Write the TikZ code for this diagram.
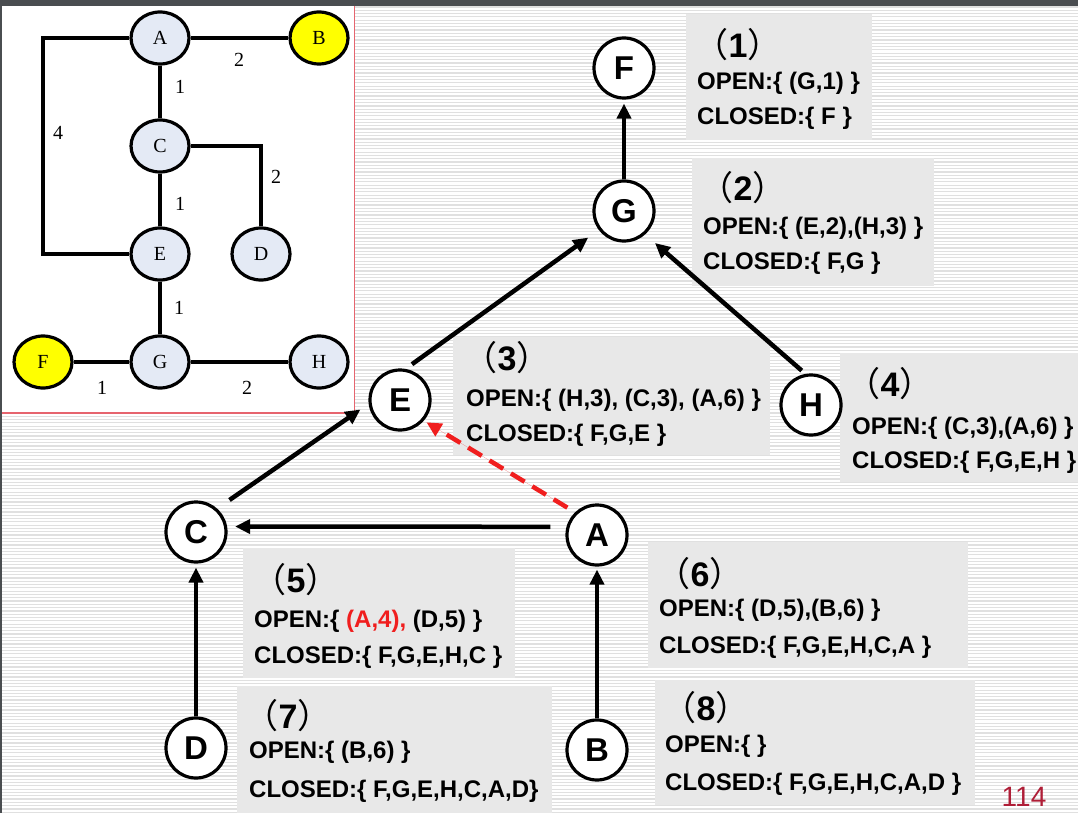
\documentclass[tikz,border=0pt]{standalone}
\usepackage{fontspec}
\setmainfont{Liberation Sans}
\newfontfamily\serifA{Liberation Serif}
\newfontfamily\cjk{Noto Sans CJK SC}
\usetikzlibrary{arrows.meta,shapes.geometric}
\definecolor{stripe}{RGB}{224,224,224}
\definecolor{boxgray}{RGB}{232,232,232}
\definecolor{nodeblue}{RGB}{228,234,245}
\definecolor{yel}{RGB}{255,255,0}
\definecolor{topbar}{RGB}{74,77,80}
\definecolor{panelred}{RGB}{230,100,110}
\definecolor{pagenum}{RGB}{175,30,55}
\definecolor{hlred}{RGB}{240,30,30}
\begin{document}
\begin{tikzpicture}[x=1pt,y=1pt,
 sg/.style={ellipse, draw=black, line width=3.2pt, fill=nodeblue, minimum width=58pt, minimum height=52pt, inner sep=0pt, font=\serifA\fontsize{20}{20}\selectfont},
 sgy/.style={sg, fill=yel},
 sedge/.style={line width=3.2pt},
 slbl/.style={inner sep=0pt, font=\serifA\fontsize{20}{20}\selectfont},
 tn/.style={circle, draw=black, fill=white, line width=3.2pt, minimum size=60pt, inner sep=0pt, font=\bfseries\fontsize{33}{33}\selectfont},
 arr/.style={line width=4.5pt, -{Triangle[length=15pt,width=14pt]}},
 darr/.style={arr, draw=hlred, fill=hlred, dash pattern=on 16pt off 9pt},
 panel/.style={fill=boxgray, draw=none, anchor=north west, inner sep=0pt},
 txt/.style={anchor=west, inner sep=0pt, font=\bfseries\fontsize{24}{28}\selectfont},
 stp/.style={inner sep=0pt, font=\fontsize{34}{34}\selectfont},
]
\useasboundingbox (0,0) rectangle (1078,-813);
% background
\fill[white] (0,0) rectangle (1078,-813);
\foreach \i in {0,...,244} \draw[stripe, line width=1.2pt] (0,-7-\i*3.3) -- (1078,-7-\i*3.3);
\fill[topbar] (0,0) rectangle (1078,-6);
\fill[topbar] (0,0) rectangle (1.6,-813);
% left panel
\fill[white] (1.6,-6) rectangle (354.5,-413);
\draw[panelred, line width=1.4pt] (354.5,-6) -- (354.5,-413) -- (1.6,-413);
% small graph
\node[sg]  (sA) at (160,-38) {A};
\node[sgy] (sB) at (319,-38) {B};
\node[sg]  (sC) at (160,-146) {C};
\node[sg]  (sD) at (261,-254) {D};
\node[sg]  (sE) at (160,-254) {E};
\node[sgy] (sF) at (43,-362) {F};
\node[sg]  (sG) at (160,-362) {G};
\node[sg]  (sH) at (319,-362) {H};
\coordinate (k1) at (43,-38);
\draw[sedge] (sA) -- (sB);
\draw[sedge] (sA) -- (sC);
\draw[sedge] (sA.west) -- (k1) |- (sE.west);
\draw[sedge] (sC.east) -| (sD.north);
\draw[sedge] (sC) -- (sE);
\draw[sedge] (sE) -- (sG);
\draw[sedge] (sF) -- (sG);
\draw[sedge] (sG) -- (sH);
\node[slbl] (l1) at (239,-60) {2};
\node[slbl] (l2) at (180,-87) {1};
\node[slbl] (l3) at (58,-133) {4};
\node[slbl] (l4) at (276,-177) {2};
\node[slbl] (l5) at (180,-204) {1};
\node[slbl] (l6) at (179,-308) {1};
\node[slbl] (l7) at (102,-388) {1};
\node[slbl] (l8) at (247,-388) {2};
% text panels
\node[panel, minimum width=186pt, minimum height=126pt] (p1) at (686,-14) {};
\node[panel, minimum width=242pt, minimum height=128pt] (p2) at (692,-158) {};
\node[panel, minimum width=317pt, minimum height=118pt] (p3) at (453,-337) {};
\node[panel, minimum width=238pt, minimum height=129pt] (p4) at (840,-353) {};
\node[panel, minimum width=272pt, minimum height=130pt] (p5) at (243,-548) {};
\node[panel, minimum width=320pt, minimum height=126pt] (p6) at (648,-542) {};
\node[panel, minimum width=315pt, minimum height=127pt] (p7) at (237,-686) {};
\node[panel, minimum width=320pt, minimum height=125pt] (p8) at (655,-680) {};
\node[stp] (s1) at (738,-45) {{\cjk （}\textbf{1}{\cjk ）}};
\node[txt] (o1) at (697,-83) {OPEN:\{ (G,1) \}};
\node[txt] (c1) at (697,-118) {CLOSED:\{ F \}};
\node[stp] (s2) at (743,-188) {{\cjk （}\textbf{2}{\cjk ）}};
\node[txt] (o2) at (703,-228) {OPEN:\{ (E,2),(H,3) \}};
\node[txt] (c2) at (703,-263) {CLOSED:\{ F,G \}};
\node[stp] (s3) at (507,-358) {{\cjk （}\textbf{3}{\cjk ）}};
\node[txt] (o3) at (466,-400) {OPEN:\{ (H,3), (C,3), (A,6) \}};
\node[txt] (c3) at (466,-435) {CLOSED:\{ F,G,E \}};
\node[stp] (s4) at (890,-384) {{\cjk （}\textbf{4}{\cjk ）}};
\node[txt] (o4) at (852,-428) {OPEN:\{ (C,3),(A,6) \}};
\node[txt] (c4) at (852,-462) {CLOSED:\{ F,G,E,H \}};
\node[stp] (s5) at (296,-580) {{\cjk （}\textbf{5}{\cjk ）}};
\node[txt] (o5) at (254,-621) {OPEN:\{ \textcolor{hlred}{(A,4),} (D,5) \}};
\node[txt] (c5) at (254,-657) {CLOSED:\{ F,G,E,H,C \}};
\node[stp] (s6) at (700,-574) {{\cjk （}\textbf{6}{\cjk ）}};
\node[txt] (o6) at (659,-610) {OPEN:\{ (D,5),(B,6) \}};
\node[txt] (c6) at (659,-647) {CLOSED:\{ F,G,E,H,C,A \}};
\node[stp] (s7) at (288,-716) {{\cjk （}\textbf{7}{\cjk ）}};
\node[txt] (o7) at (249,-752) {OPEN:\{ (B,6) \}};
\node[txt] (c7) at (249,-791) {CLOSED:\{ F,G,E,H,C,A,D\}};
\node[stp] (s8) at (706,-708) {{\cjk （}\textbf{8}{\cjk ）}};
\node[txt] (o8) at (665,-746) {OPEN:\{ \}};
\node[txt] (c8) at (665,-784) {CLOSED:\{ F,G,E,H,C,A,D \}};
% search tree
\node[tn] (F) at (624,-68) {F};
\node[tn] (G) at (624,-211) {G};
\node[tn] (E) at (400,-400) {E};
\node[tn] (H) at (811,-405) {H};
\node[tn] (C) at (196,-532) {C};
\node[tn] (A) at (597,-535) {A};
\node[tn] (D) at (196,-748) {D};
\node[tn] (B) at (597,-750) {B};
\draw[arr, shorten >=4pt] (G) -- (F);
\draw[arr, shorten <=8pt, shorten >=13pt] (E.80) -- (G.217);
\draw[arr, shorten <=5pt, shorten >=13pt] (H.100) -- (G.312);
\draw[arr, shorten <=15pt, shorten >=10pt] (C.48) -- (E.187);
\draw[arr, shorten <=16pt, shorten >=8pt] (A.165) -- (C.10);
\draw[darr, shorten <=9pt, shorten >=3pt] (A.134) -- (E.319);
\draw[arr, shorten >=4pt] (D) -- (C);
\draw[arr, shorten >=3pt] (B) -- (A);
\node[font=\fontsize{28}{28}\selectfont, text=pagenum, inner sep=0pt] (pn) at (1024,-797) {114};
\end{tikzpicture}
\end{document}
